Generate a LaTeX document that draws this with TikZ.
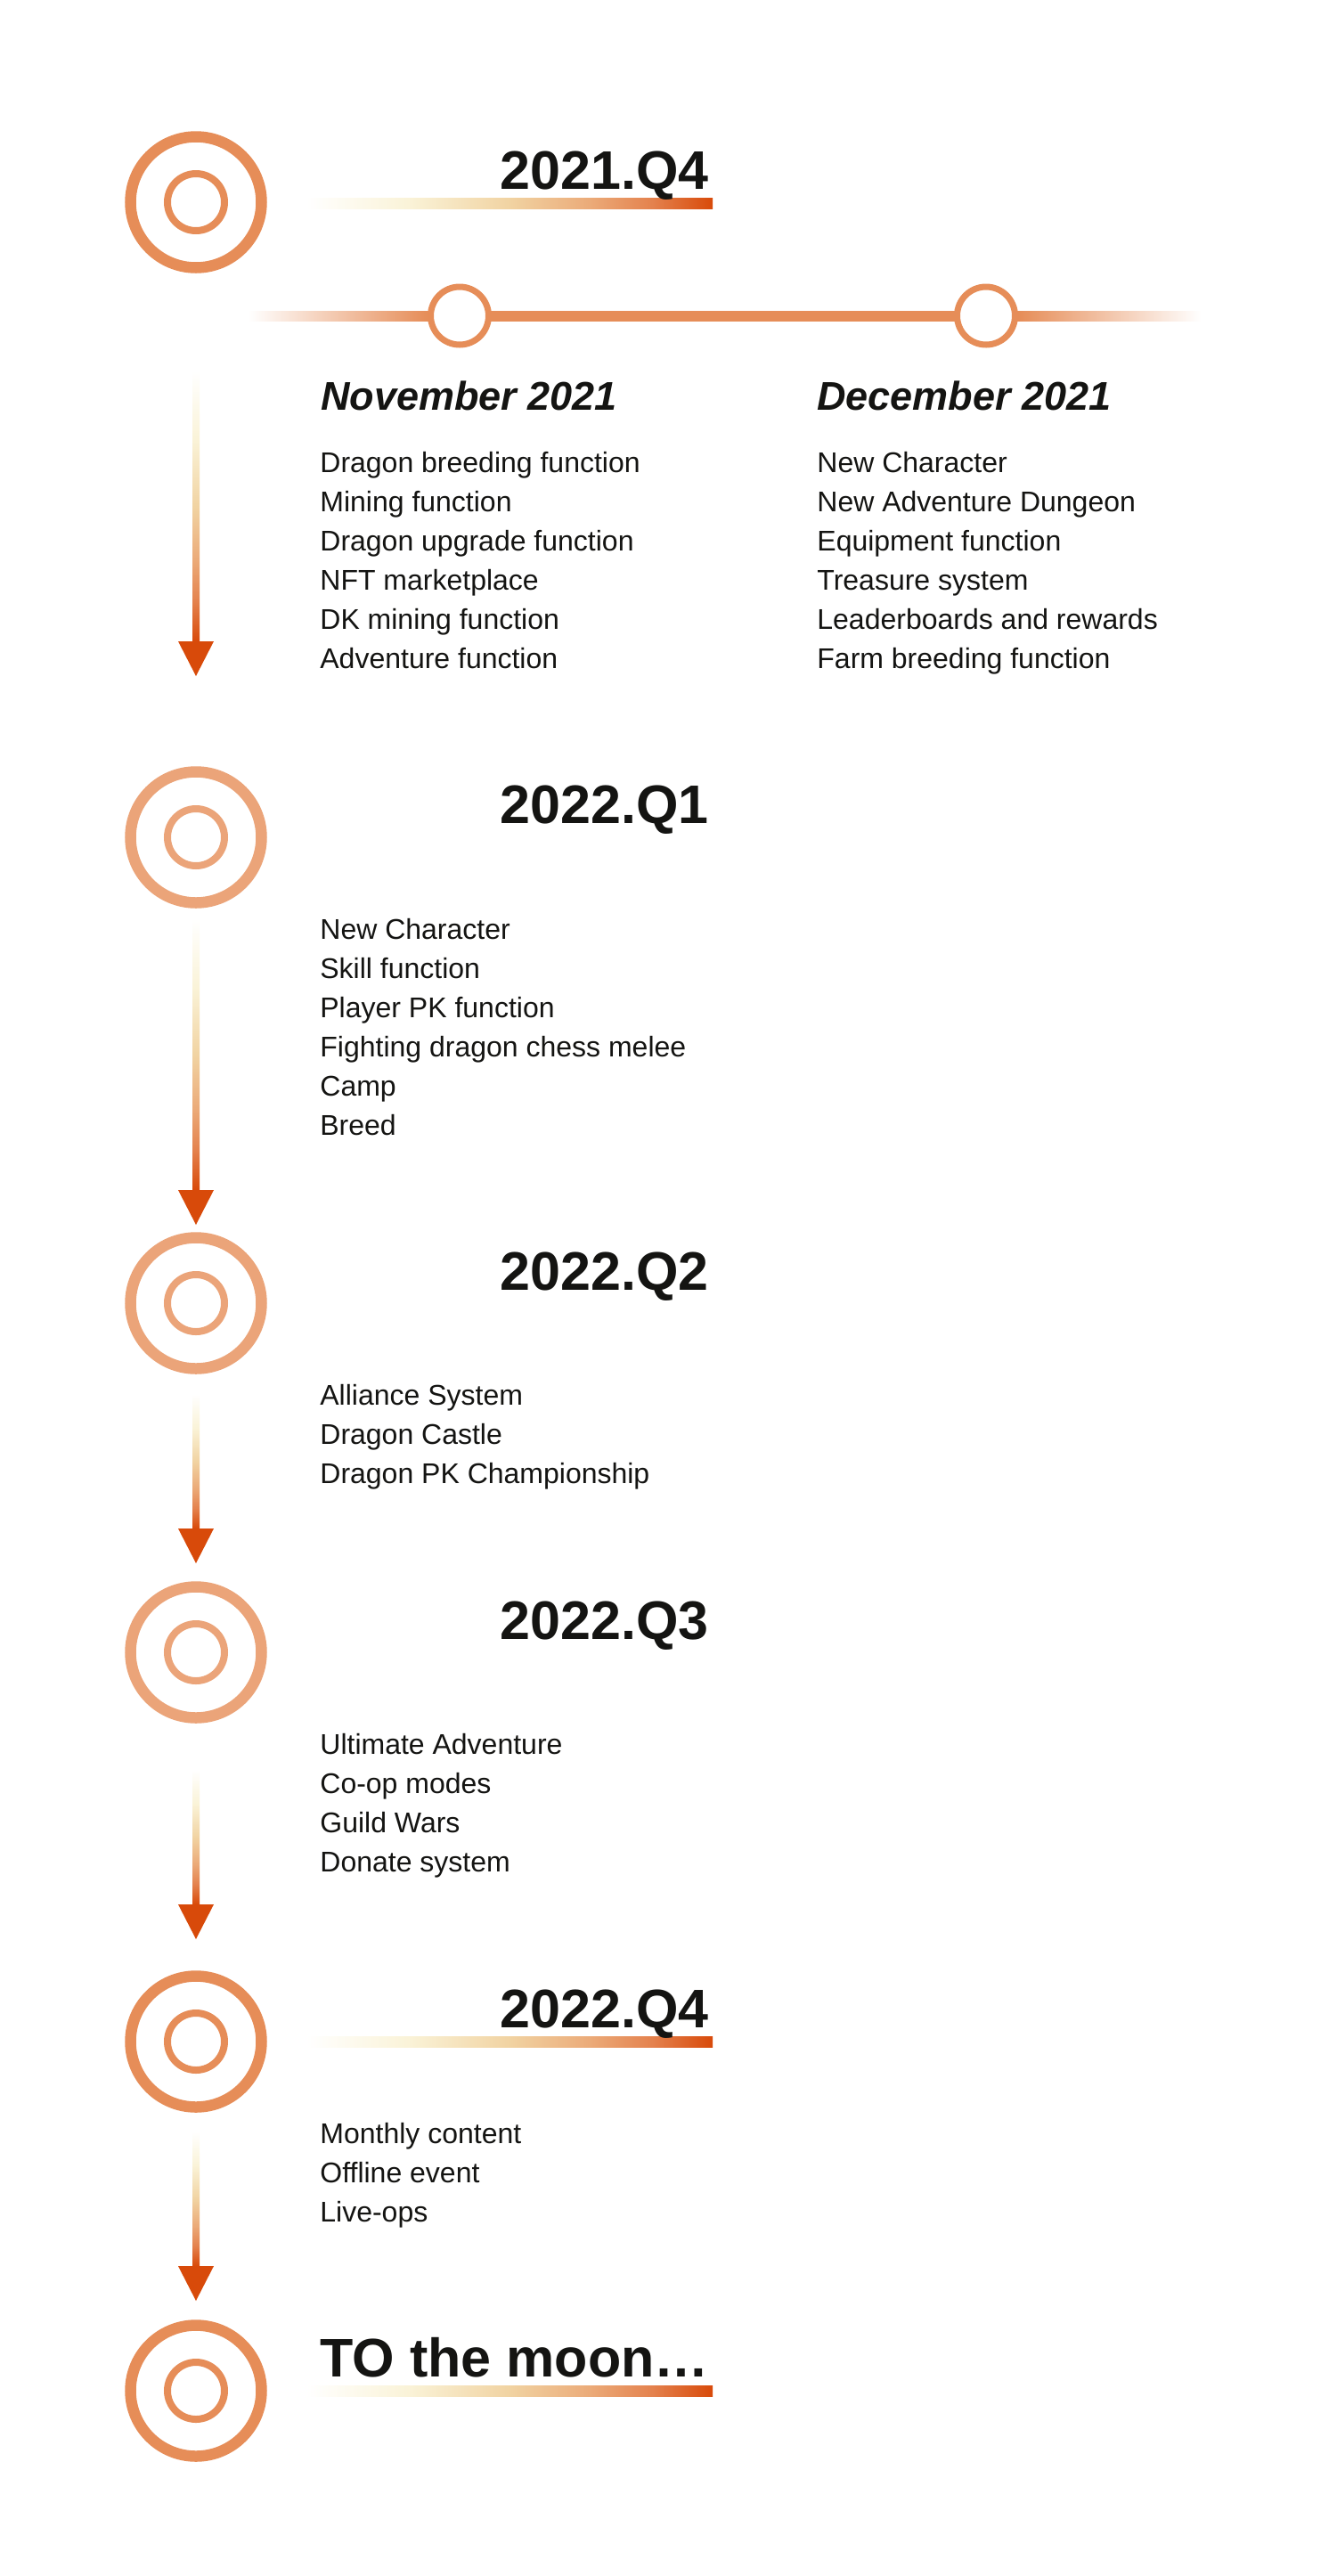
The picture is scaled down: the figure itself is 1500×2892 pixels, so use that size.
\documentclass[tikz,border=0pt]{standalone}
\usepackage{fontspec}
\setmainfont{Liberation Sans}
\usepackage{xcolor}
\usepackage{tikz}
\usetikzlibrary{positioning}
\definecolor{ringdark}{RGB}{230,141,88}
\definecolor{ringlight}{RGB}{235,164,121}
\definecolor{headred}{RGB}{216,74,10}
\definecolor{inkblack}{RGB}{20,20,18}
\definecolor{fadeA}{RGB}{250,243,216}
\definecolor{fadeB}{RGB}{241,211,162}
\definecolor{fadeC}{RGB}{235,170,120}
\definecolor{fadeD}{RGB}{228,130,78}
\pgfdeclarehorizontalshading{barfade}{100bp}{color(0bp)=(white); color(25bp)=(white); color(37.5bp)=(fadeA); color(50bp)=(fadeB); color(60bp)=(fadeC); color(67.5bp)=(fadeD); color(75bp)=(headred); color(100bp)=(headred)}
\pgfdeclareverticalshading{arrowfade}{100bp}{color(0bp)=(headred); color(25bp)=(headred); color(32.5bp)=(fadeD); color(40bp)=(fadeC); color(50bp)=(fadeB); color(62.5bp)=(fadeA); color(75bp)=(white); color(100bp)=(white)}
\pgfdeclarehorizontalshading{linefade}{100bp}{color(0bp)=(white); color(25bp)=(white); color(34.4bp)=(ringdark); color(65.4bp)=(ringdark); color(75bp)=(white); color(100bp)=(white)}

\begin{document}
\begin{tikzpicture}[x=0.5pt,y=0.5pt,yscale=-1,
  bigring/.style={circle,draw=#1,line width=6.25pt,minimum size=73.5pt,inner sep=0pt},
  innerring/.style={circle,draw=#1,line width=4pt,minimum size=32pt,inner sep=0pt},
  monthdot/.style={circle,draw=ringdark,fill=white,line width=3.5pt,minimum size=32.5pt,inner sep=0pt},
  quarter/.style={anchor=base east,inner sep=0pt,text=inkblack,font=\fontsize{30.5}{36}\selectfont\bfseries},
  month/.style={anchor=base west,inner sep=0pt,text=inkblack,font=\fontsize{22.5}{27}\selectfont\bfseries\itshape},
  task/.style={anchor=base west,inner sep=0pt,text=inkblack,font=\fontsize{16}{20}\selectfont}]
\fill[white] (0,0) rectangle (1500,2892);
\useasboundingbox (0,0) rectangle (1500,2892);
\foreach \yy/\cc [count=\k] in {227/ringdark,940/ringlight,1463/ringlight,1855/ringlight,2292/ringdark,2684/ringdark}{
  \node[bigring=\cc] (ring\k) at (220,\yy) {};
  \node[innerring=\cc] (core\k) at (220,\yy) {};
}
\shade[shading=barfade] (344,222) rectangle (800,234);
\shade[shading=barfade] (344,2286) rectangle (800,2298);
\shade[shading=barfade] (344,2678) rectangle (800,2690);
\shade[shading=linefade] (279,349) rectangle (1348,360);
\node[monthdot] (novdot) at (516,354.5) {};
\node[monthdot] (decdot) at (1107,354.5) {};
\node[quarter] (q4a) at (796,212) {2021.Q4};
\node[quarter] (q1) at (796,924) {2022.Q1};
\node[quarter] (q2) at (796,1448) {2022.Q2};
\node[quarter] (q3) at (796,1840) {2022.Q3};
\node[quarter] (q4b) at (796,2276) {2022.Q4};
\node[quarter] (moon) at (796,2668) {TO the moon…};
\node[month] (nov) at (360,460) {November 2021};
\node[month] (dec) at (917,460) {December 2021};
\foreach \t [count=\i] in {Dragon breeding function,Mining function,Dragon upgrade function,NFT marketplace,DK mining function,Adventure function}
  \node[task] (nov\i) at (359,{530+44*(\i-1)}) {\t};
\foreach \t [count=\i] in {New Character,New Adventure Dungeon,Equipment function,Treasure system,Leaderboards and rewards,Farm breeding function}
  \node[task] (dec\i) at (917,{530+44*(\i-1)}) {\t};
\foreach \t [count=\i] in {New Character,Skill function,Player PK function,Fighting dragon chess melee,Camp,Breed}
  \node[task] (qa\i) at (359,{1054+44*(\i-1)}) {\t};
\foreach \t [count=\i] in {Alliance System,Dragon Castle,Dragon PK Championship}
  \node[task] (qb\i) at (359,{1577+44*(\i-1)}) {\t};
\foreach \t [count=\i] in {Ultimate Adventure,Co-op modes,Guild Wars,Donate system}
  \node[task] (qc\i) at (359,{1969+44*(\i-1)}) {\t};
\foreach \t [count=\i] in {Monthly content,Offline event,Live-ops}
  \node[task] (qd\i) at (359,{2406+44*(\i-1)}) {\t};
\foreach \ya/\yb [count=\k] in {417/759,1032/1375,1565/1755,1987/2177,2393/2583}{
  \coordinate (tail\k) at (220,\ya);
  \coordinate (tip\k) at (220,\yb);
  \shade[shading=arrowfade] (tail\k) ++(-4,0) rectangle (224,\yb-39);
  \fill[headred] (tip\k) -- ++(-20,-39) -- ++(40,0) -- cycle;
}
\end{tikzpicture}
\end{document}
